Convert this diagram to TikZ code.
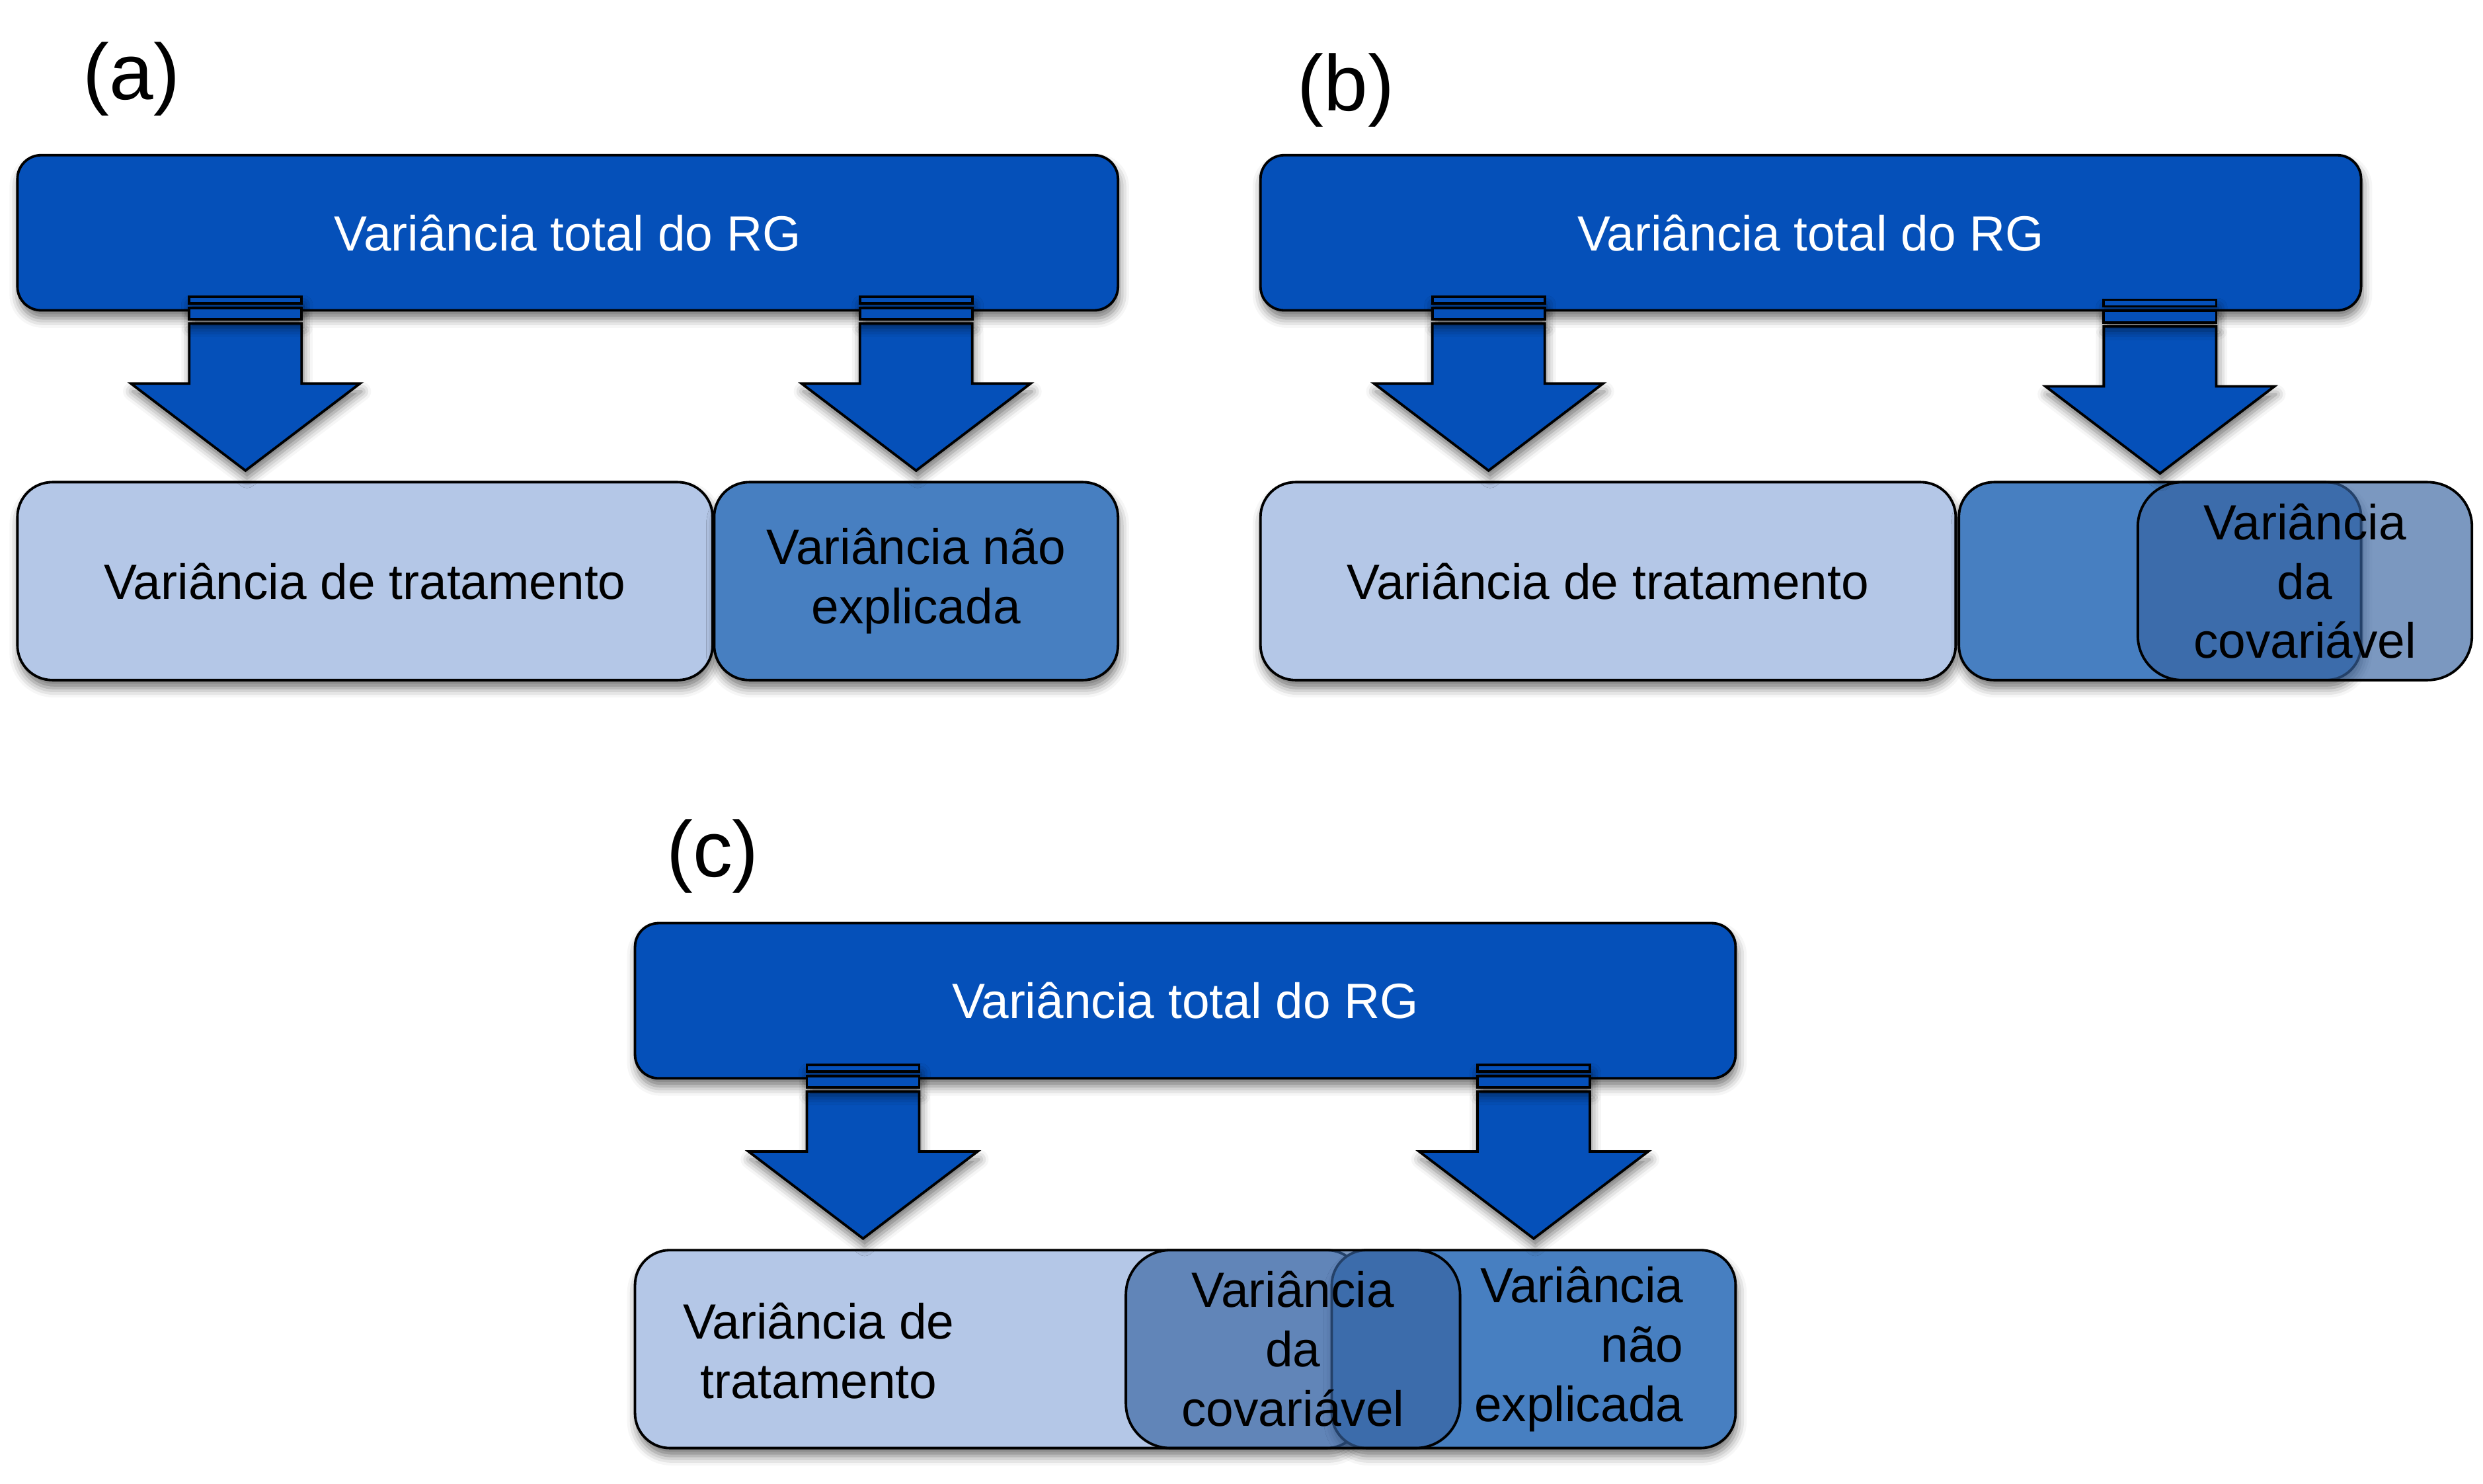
\documentclass[tikz,border=0pt]{standalone}
\usepackage{fontspec}
\setmainfont{Liberation Sans}
\usetikzlibrary{shadows.blur}

\definecolor{rgdark}{RGB}{5,80,185}
\definecolor{rglight}{RGB}{180,199,231}
\definecolor{rgmid}{RGB}{71,127,193}
\definecolor{rgcov}{RGB}{55,99,160}

% block arrow, tip at the named coordinate
\newcommand{\bigarrow}[1]{%
  \draw[arrowfill] (#1) -- ++(72.3,-55) -- ++(-36.8,0) -- ++(0,-37.9)
      -- ++(-71,0) -- ++(0,37.9) -- ++(-36.8,0) -- cycle;
  \draw[arrowfill] ([shift={(-35.5,-109.7)}]#1) rectangle ++(71,4.2);
  \draw[arrowfill] ([shift={(-35.5,-102.7)}]#1) rectangle ++(71,7.3);
}

\begin{document}
\begin{tikzpicture}[x=1pt,y=-1pt,
        shadowed/.style={blur shadow={shadow xshift=1pt,shadow yshift=-5pt,
            shadow blur radius=6pt,shadow opacity=55}},
        plainbox/.style={draw=black,line width=1.6pt,rounded corners=15pt,
            font=\fontsize{31.25}{37.5}\selectfont,align=center,inner sep=0pt},
        box/.style={plainbox,shadowed},
        topbox/.style={box,fill=rgdark,text=white,minimum width=695pt,
            minimum height=98pt},
        lowbox/.style={box,rounded corners=22pt,minimum height=125pt},
        covbox/.style={plainbox,rounded corners=28pt,minimum height=125pt,
            fill=rgcov,fill opacity=0.66,text opacity=1,minimum width=211pt},
        arrowfill/.style={draw=black,line width=1.6pt,fill=rgdark,shadowed},
        panel/.style={font=\fontsize{50}{60}\selectfont}]
\useasboundingbox (0,0) rectangle (1568,937);

% (a)
\begin{scope}
\node[panel] (labA) at (83,50) {(a)};
\node[topbox] (topA) at (358.5,147) {Variância total do RG};
\node[lowbox,fill=rglight,minimum width=439pt] (treatA) at (230.5,367)
    {Variância de tratamento};
\node[lowbox,fill=rgmid,minimum width=255pt] (restA) at (578.5,367)
    {Variância não\\explicada};
\coordinate (tipA1) at (155,297.2);
\coordinate (tipA2) at (578.5,297.2);
\bigarrow{tipA1}
\bigarrow{tipA2}
\end{scope}

% (b)
\begin{scope}[shift={(785,0)}]
\node[panel] (labB) at (65,57) {(b)};
\node[topbox] (topB) at (358.5,147) {Variância total do RG};
\node[lowbox,fill=rglight,minimum width=439pt] (treatB) at (230.5,367)
    {Variância de tratamento};
\node[lowbox,fill=rgmid,minimum width=254pt] (restB) at (579,367) {};
\node[covbox] (covB) at (670.5,367) {Variância\\da\\covariável};
\coordinate (tipB1) at (155,297.2);
\coordinate (tipB2) at (579,299);
\bigarrow{tipB1}
\bigarrow{tipB2}
\end{scope}

% (c)
\begin{scope}[shift={(390,485)}]
\node[panel] (labC) at (60,56) {(c)};
\node[topbox] (topC) at (358.5,147) {Variância total do RG};
\node[lowbox,fill=rglight,minimum width=459pt] (treatC) at (240.5,367) {};
\node[font=\fontsize{31.25}{37.5}\selectfont,align=center] (treatCtext)
    at (127,368) {Variância de\\tratamento};
\node[lowbox,fill=rgmid,minimum width=255pt,text width=189pt,inner xsep=33pt,
    align=right] (restC) at (578.5,367) {Variância\\não\\explicada};
\node[covbox] (covC) at (426.5,367) {Variância\\da\\covariável};
\coordinate (tipC1) at (155,297.2);
\coordinate (tipC2) at (578.5,297.2);
\bigarrow{tipC1}
\bigarrow{tipC2}
\end{scope}
\end{tikzpicture}
\end{document}
